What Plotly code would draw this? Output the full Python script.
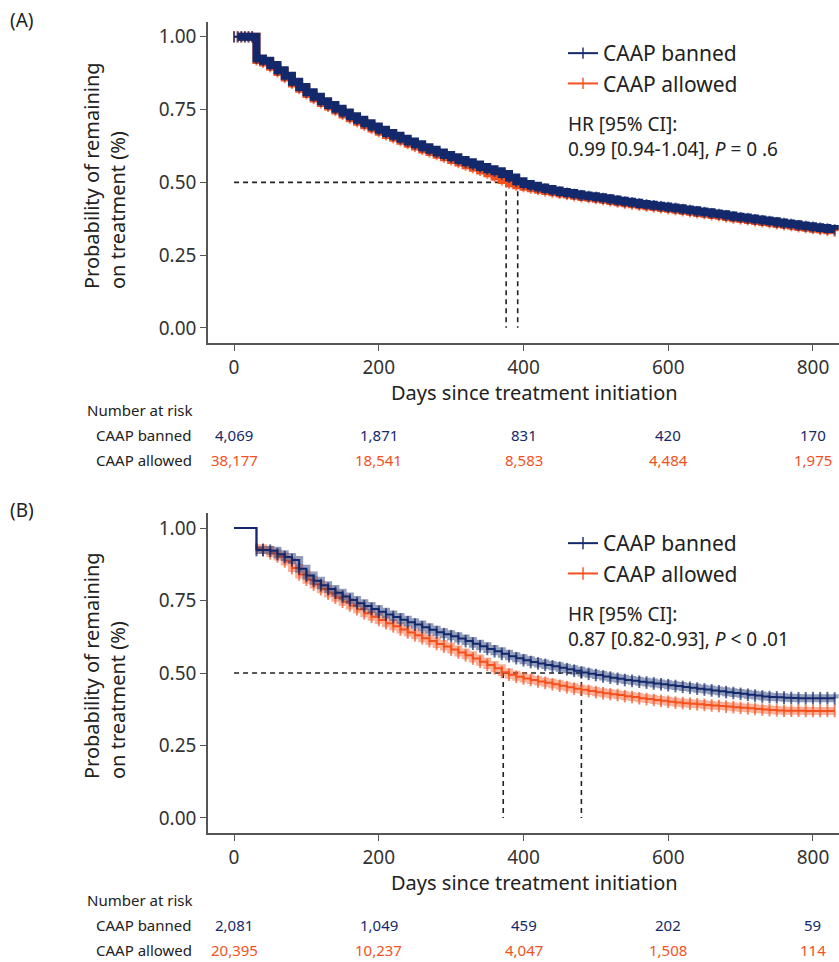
import plotly.graph_objects as go

# ---------------- data ----------------
days_A = [0, 5, 10, 15, 20, 25, 31, 40, 50, 60, 70, 80, 90, 100, 110, 120, 130, 140, 150, 160,
          170, 180, 190, 200, 210, 220, 230, 240, 250, 260, 270, 280, 290, 300, 310, 320, 330,
          340, 350, 360, 370, 380, 390, 400, 410, 420, 430, 440, 450, 460, 470, 480, 490, 500,
          510, 520, 530, 540, 550, 560, 570, 580, 590, 600, 610, 620, 630, 640, 650, 660, 670,
          680, 690, 700, 710, 720, 730, 740, 750, 760, 770, 780, 790, 800, 810, 820, 830]
banned_A = [1.0, 1.0, 1.0, 1.0, 1.0, 1.0, 0.926, 0.918, 0.903, 0.885, 0.866, 0.846, 0.828, 0.810,
            0.794, 0.779, 0.766, 0.753, 0.740, 0.727, 0.715, 0.703, 0.692, 0.681, 0.670, 0.660,
            0.650, 0.640, 0.631, 0.621, 0.612, 0.603, 0.594, 0.586, 0.577, 0.569, 0.561, 0.553,
            0.545, 0.538, 0.529, 0.517, 0.504, 0.494, 0.488, 0.482, 0.477, 0.472, 0.467, 0.463,
            0.459, 0.455, 0.452, 0.449, 0.445, 0.441, 0.437, 0.433, 0.430, 0.426, 0.423, 0.420,
            0.417, 0.414, 0.411, 0.407, 0.404, 0.400, 0.397, 0.393, 0.390, 0.386, 0.382, 0.379,
            0.376, 0.372, 0.369, 0.366, 0.362, 0.359, 0.356, 0.352, 0.349, 0.346, 0.343, 0.340,
            0.337]
allowed_A = [1.0, 1.0, 1.0, 1.0, 1.0, 1.0, 0.920, 0.912, 0.897, 0.879, 0.860, 0.840, 0.822, 0.804,
             0.788, 0.773, 0.761, 0.747, 0.733, 0.720, 0.708, 0.696, 0.685, 0.674, 0.663, 0.653,
             0.643, 0.633, 0.623, 0.613, 0.604, 0.595, 0.586, 0.577, 0.568, 0.559, 0.550, 0.541,
             0.531, 0.520, 0.508, 0.497, 0.490, 0.485, 0.480, 0.475, 0.470, 0.466, 0.462, 0.458,
             0.454, 0.450, 0.447, 0.444, 0.440, 0.436, 0.432, 0.428, 0.425, 0.421, 0.418, 0.415,
             0.412, 0.409, 0.406, 0.402, 0.399, 0.395, 0.392, 0.388, 0.385, 0.381, 0.377, 0.374,
             0.371, 0.367, 0.364, 0.361, 0.357, 0.354, 0.351, 0.347, 0.344, 0.341, 0.338, 0.335,
             0.332]

days_B = [0, 31, 40, 50, 60, 70, 80, 90, 100, 110, 120, 130, 140, 150, 160, 170, 180, 190, 200,
          210, 220, 230, 240, 250, 260, 270, 280, 290, 300, 310, 320, 330, 340, 350, 360, 370,
          380, 390, 400, 410, 420, 430, 440, 450, 460, 470, 480, 490, 500, 510, 520, 530, 540,
          550, 560, 570, 580, 590, 600, 610, 620, 630, 640, 650, 660, 670, 680, 690, 700, 710,
          720, 730, 740, 750, 760, 770, 780, 790, 800, 810, 820, 830]
banned_B = [1.0, 0.924, 0.924, 0.922, 0.910, 0.900, 0.890, 0.860, 0.836, 0.818, 0.803, 0.790,
            0.777, 0.764, 0.752, 0.741, 0.731, 0.721, 0.711, 0.702, 0.693, 0.684, 0.675, 0.667,
            0.658, 0.649, 0.641, 0.634, 0.627, 0.619, 0.610, 0.601, 0.592, 0.583, 0.575, 0.566,
            0.558, 0.551, 0.544, 0.538, 0.533, 0.528, 0.523, 0.518, 0.513, 0.508, 0.502, 0.497,
            0.493, 0.488, 0.484, 0.480, 0.476, 0.473, 0.470, 0.467, 0.464, 0.461, 0.458, 0.455,
            0.452, 0.449, 0.446, 0.443, 0.440, 0.437, 0.434, 0.431, 0.428, 0.425, 0.422, 0.419,
            0.417, 0.416, 0.415, 0.414, 0.413, 0.413, 0.413, 0.413, 0.413, 0.412]
allowed_B = [1.0, 0.930, 0.925, 0.913, 0.902, 0.885, 0.862, 0.840, 0.822, 0.805, 0.789, 0.774,
             0.760, 0.746, 0.733, 0.720, 0.706, 0.694, 0.683, 0.672, 0.661, 0.650, 0.640, 0.630,
             0.620, 0.610, 0.600, 0.591, 0.581, 0.571, 0.561, 0.550, 0.539, 0.528, 0.516, 0.503,
             0.494, 0.487, 0.481, 0.476, 0.471, 0.466, 0.461, 0.456, 0.451, 0.446, 0.442, 0.438,
             0.434, 0.430, 0.427, 0.424, 0.420, 0.417, 0.413, 0.410, 0.407, 0.404, 0.401, 0.398,
             0.396, 0.394, 0.392, 0.390, 0.388, 0.386, 0.384, 0.382, 0.380, 0.378, 0.376, 0.374,
             0.372, 0.371, 0.370, 0.370, 0.370, 0.369, 0.369, 0.369, 0.369, 0.369]

medians_A = [376, 392]
medians_B = [372, 480]

risk_days = [0, 200, 400, 600, 800]
risk_banned_A = [4069, 1871, 831, 420, 170]
risk_allowed_A = [38177, 18541, 8583, 4484, 1975]
risk_banned_B = [2081, 1049, 459, 202, 59]
risk_allowed_B = [20395, 10237, 4047, 1508, 114]

series_names = ["CAAP banned", "CAAP allowed"]
hr_A = "HR [95% CI]:<br>0.99 [0.94-1.04], <i>P</i> = 0 .6"
hr_B = "HR [95% CI]:<br>0.87 [0.82-0.93], <i>P</i> < 0 .01"

# ---------------- style ----------------
NAVY = "#13296b"
ORANGE = "#f4511e"
TXT = "#222222"
AX = "#555555"
FONT = "Noto Sans"
W, H = 839, 962

def py(px):  # pixel row -> paper y
    return 1 - px / H

def pxx(px):
    return px / W

fig = go.Figure()

def add_panel(xa, ya, days, banned, allowed, legend, band_opacity):
    for name, vals, col, rank in [(series_names[1], allowed, ORANGE, 2),
                                   (series_names[0], banned, NAVY, 1)]:
        fig.add_trace(go.Scatter(x=days[1:], y=vals[1:], mode="lines", xaxis=xa, yaxis=ya,
                                 line=dict(color=col, width=8, shape="hv"),
                                 opacity=band_opacity, showlegend=False, hoverinfo="skip"))
        sizes = [8] * len(days) if band_opacity >= 1 else [0] + [9] * (len(days) - 1)
        fig.add_trace(go.Scatter(x=days, y=vals, mode="lines+markers", name=name,
                                 xaxis=xa, yaxis=ya, legend=legend, legendrank=rank,
                                 line=dict(color=col, width=2, shape="hv"),
                                 marker=dict(symbol="line-ns", size=sizes,
                                             line=dict(color=col, width=2), color=col)))

def add_medians(xa, ya, meds):
    fig.add_trace(go.Scatter(x=[0, max(meds)], y=[0.5, 0.5], mode="lines", xaxis=xa, yaxis=ya,
                             line=dict(color="#222", width=1.6, dash="5px,4px"),
                             showlegend=False, hoverinfo="skip"))
    for m in meds:
        fig.add_trace(go.Scatter(x=[m, m], y=[0.5, 0], mode="lines", xaxis=xa, yaxis=ya,
                                 line=dict(color="#222", width=1.6, dash="5px,4px"),
                                 showlegend=False, hoverinfo="skip"))

add_medians("x", "y", medians_A)
add_panel("x", "y", days_A, banned_A, allowed_A, "legend", 1.0)
add_medians("x2", "y2", medians_B)
add_panel("x2", "y2", days_B, banned_B, allowed_B, "legend2", 0.45)

axis_common = dict(showline=True, linecolor=AX, linewidth=1.6, ticks="outside", ticklen=6,
                   tickwidth=1.4, tickcolor=AX, showgrid=False, zeroline=False,
                   tickfont=dict(size=19, color="#333", family=FONT))

x_dom = [pxx(208), 1.0]
fig.update_layout(
    width=W, height=H, margin=dict(l=0, r=0, t=0, b=0),
    paper_bgcolor="white", plot_bgcolor="white",
    font=dict(family=FONT, color=TXT),
    xaxis=dict(domain=x_dom, anchor="y", range=[-36, 836], tickvals=risk_days, **axis_common),
    yaxis=dict(domain=[py(343), py(22)], anchor="x", range=[-0.052, 1.051],
               tickvals=[0, 0.25, 0.5, 0.75, 1.0], tickformat=".2f", **axis_common),
    xaxis2=dict(domain=x_dom, anchor="y2", range=[-36, 836], tickvals=risk_days, **axis_common),
    yaxis2=dict(domain=[py(833), py(513)], anchor="x2", range=[-0.052, 1.052],
                tickvals=[0, 0.25, 0.5, 0.75, 1.0], tickformat=".2f", **axis_common),
    legend=dict(x=pxx(563), y=py(33), xanchor="left", yanchor="top",
                font=dict(size=21, color=TXT), bgcolor="rgba(0,0,0,0)"),
    legend2=dict(x=pxx(563), y=py(523), xanchor="left", yanchor="top",
                 font=dict(size=21, color=TXT), bgcolor="rgba(0,0,0,0)"),
    showlegend=True,
)

ann = []
def label(text, x, y, size, color=TXT, xanchor="left", xref="paper", angle=0):
    ann.append(dict(text=text, x=x, y=y, xref=xref, yref="paper", showarrow=False,
                    xanchor=xanchor, yanchor="middle", textangle=angle, align="left",
                    font=dict(size=size, color=color, family=FONT)))

for (panel, off, xref, hr, rb, ra) in [("(A)", 0, "x", hr_A, risk_banned_A, risk_allowed_A),
                                     ("(B)", 490, "x2", hr_B, risk_banned_B, risk_allowed_B)]:
    label(panel, pxx(8), py(20 + off), 19)
    label("Probability of remaining<br>on treatment (%)", pxx(104), py(176 + off), 20,
          xanchor="center", angle=-90)
    label("Days since treatment initiation", pxx(534), py(392 + off), 20, xanchor="center")
    label(hr, pxx(566), py(136 + off), 19)
    label("Number at risk", pxx(194), py(410 + off), 15, xanchor="right")
    label(series_names[0], pxx(194), py(435 + off), 15, xanchor="right")
    label(series_names[1], pxx(194), py(460 + off), 15, xanchor="right")
    for d, b, a in zip(risk_days, rb, ra):
        label(f"{b:,}", d, py(435 + off), 15, color=NAVY, xanchor="center", xref=xref)
        label(f"{a:,}", d, py(460 + off), 15, color=ORANGE, xanchor="center", xref=xref)

fig.update_layout(annotations=ann)
fig.write_html("out.html", config={"displayModeBar": False},
               post_script="document.body.style.margin='0';document.body.style.overflow='hidden';")
